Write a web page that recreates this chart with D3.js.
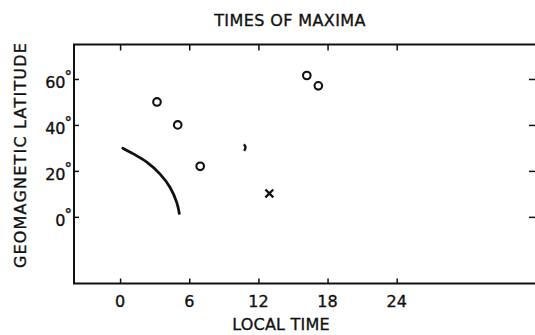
<!DOCTYPE html>
<html>
<head>
<meta charset="utf-8">
<script src="https://cdn.jsdelivr.net/npm/d3@7"></script>
<style>
    body { margin: 0; background: #fff; }
    text { font-family: "DejaVu Sans", sans-serif; fill: #111; stroke: #111; stroke-width: 0.35; }
</style>
</head>
<body>
<svg id="chart" width="535" height="335"></svg>
<script>
//Data
var circleHours = [3.2, 5.0, 6.95, 16.2, 17.2];
var circleLats = [50, 40, 22, 61.5, 57];
var crossHours = [12.95];
var crossLats = [10.2];
var commaHours = [10.85];
var commaLats = [30.2];
var curveHours = [0.23, 1.15, 2.32, 3.47, 4.34, 4.92, 5.14];
var curveLats = [29.9, 27.4, 23.8, 18.6, 12.8, 6.2, 1.5];
var xTicks = [0, 6, 12, 18, 24];
var yTicks = [0, 20, 40, 60];

//Scales
var x = d3.scaleLinear().domain([-4, 36]).range([74, 535]);
var y = d3.scaleLinear().domain([-29, 75]).range([283.5, 44.5]);

var svg = d3.select("#chart");
var ink = "#111";

//Frame (right edge is cut off in the picture)
var frame = d3.path();
frame.moveTo(x(36) + 2, y(75));
frame.lineTo(x(-4), y(75));
frame.lineTo(x(-4), y(-29));
frame.lineTo(x(36) + 2, y(-29));
svg.append("path")
    .attr("d", frame.toString())
    .attr("fill", "none").attr("stroke", ink).attr("stroke-width", 2);

//Ticks (inward)
var axisBottom = d3.axisBottom(x).tickValues(xTicks).tickSize(-5).tickFormat("");
var axisTop = d3.axisTop(x).tickValues(xTicks).tickSize(-6).tickFormat("");
var axisLeft = d3.axisLeft(y).tickValues(yTicks).tickSize(-5).tickFormat("");
var axisRight = d3.axisRight(y).tickValues(yTicks).tickSize(-6).tickFormat("");

function style_axis(g) {
    g.select(".domain").remove();
    g.selectAll("line").attr("stroke", ink).attr("stroke-width", 1.5);
}
svg.append("g").attr("transform", `translate(0,${y(-29)})`).call(axisBottom).call(style_axis);
svg.append("g").attr("transform", `translate(0,${y(75)})`).call(axisTop).call(style_axis);
svg.append("g").attr("transform", `translate(${x(-4)},0)`).call(axisLeft).call(style_axis);
svg.append("g").attr("transform", `translate(${x(36)},0)`).call(axisRight).call(style_axis);

//Tick labels
svg.append("g").selectAll("text").data(xTicks).enter()
    .append("text")
    .attr("x", (d) => x(d))
    .attr("y", 306.5)
    .attr("text-anchor", "middle")
    .attr("font-size", 16)
    .text((d) => d);

svg.append("g").selectAll("text").data(yTicks).enter()
    .append("text")
    .attr("x", 72)
    .attr("y", (d) => y(d) + 9)
    .attr("text-anchor", "end")
    .attr("font-size", 16)
    .html((d) => `${d}<tspan dx="-1" dy="-6" font-size="15">°</tspan>`);

//Titles
svg.append("text")
    .attr("x", 290).attr("y", 26)
    .attr("text-anchor", "middle")
    .attr("font-size", 16)
    .attr("letter-spacing", 0.4)
    .text("TIMES OF MAXIMA");

svg.append("text")
    .attr("x", 281).attr("y", 330)
    .attr("text-anchor", "middle")
    .attr("font-size", 16)
    .attr("letter-spacing", 0.2)
    .text("LOCAL TIME");

svg.append("text")
    .attr("transform", "translate(26,155) rotate(-90)")
    .attr("text-anchor", "middle")
    .attr("font-size", 16)
    .attr("letter-spacing", 1.2)
    .text("GEOMAGNETIC LATITUDE");

//Marks
var line = d3.line().x((d) => x(d[0])).y((d) => y(d[1])).curve(d3.curveCatmullRom);
svg.append("path")
    .datum(d3.zip(curveHours, curveLats))
    .attr("d", line)
    .attr("fill", "none")
    .attr("stroke", ink)
    .attr("stroke-width", 2.8)
    .attr("stroke-linecap", "round");

svg.append("g").selectAll("circle").data(d3.zip(circleHours, circleLats)).enter()
    .append("circle")
    .attr("cx", (d) => x(d[0]))
    .attr("cy", (d) => y(d[1]))
    .attr("r", 3.8)
    .attr("fill", "none")
    .attr("stroke", ink)
    .attr("stroke-width", 2.1);

svg.append("g").selectAll("path").data(d3.zip(crossHours, crossLats)).enter()
    .append("path")
    .attr("d", d3.symbol(d3.symbolTimes, 42))
    .attr("transform", (d) => `translate(${x(d[0])},${y(d[1])})`)
    .attr("fill", "none")
    .attr("stroke", ink)
    .attr("stroke-width", 2.3);

svg.append("g").selectAll("path").data(d3.zip(commaHours, commaLats)).enter()
    .append("path")
    .attr("d", "M -1.5 -3 Q 2 -1 -1 3.5")
    .attr("transform", (d) => `translate(${x(d[0])},${y(d[1])})`)
    .attr("fill", "none")
    .attr("stroke", ink)
    .attr("stroke-width", 2.4);
</script>
</body>
</html>
